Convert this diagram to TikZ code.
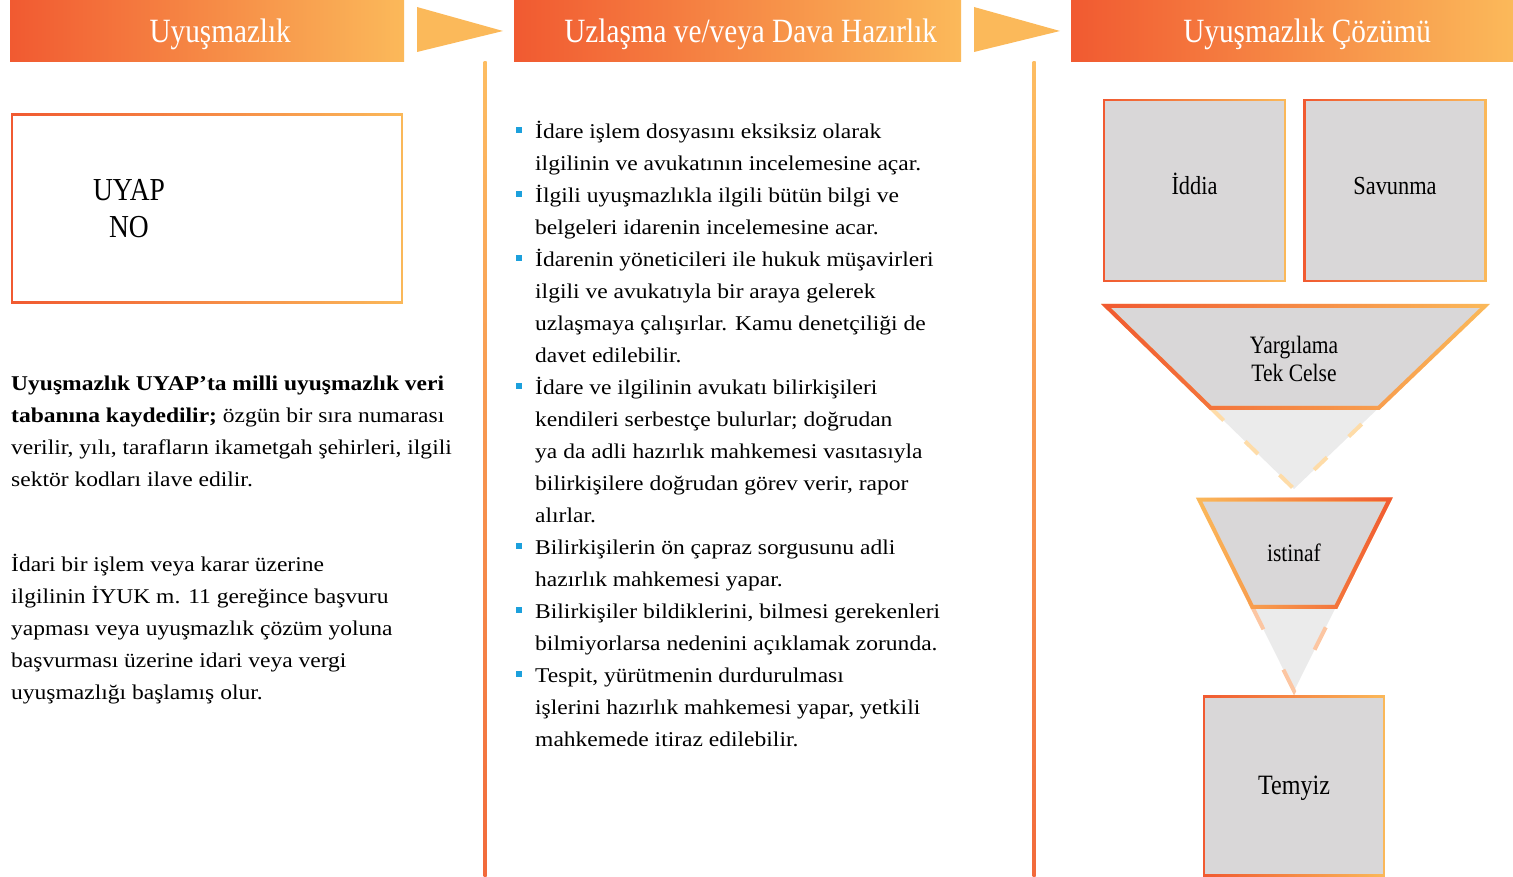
\documentclass[tikz,border=0pt]{standalone}
\usepackage{fontspec}
\setmainfont{Liberation Serif}[FakeStretch=1.12]
\newfontfamily\dispfont[FakeStretch=0.86]{Liberation Serif}
\usetikzlibrary{fadings,positioning,calc}

\definecolor{orRed}{HTML}{F15A31}
\definecolor{orYellow}{HTML}{FBB95A}
\definecolor{lineTop}{HTML}{FDBD62}
\definecolor{lineBot}{HTML}{F26A3B}
\definecolor{boxGray}{HTML}{D9D7D8}
\definecolor{tipGray}{HTML}{EBEBEB}
\definecolor{dashOne}{HTML}{FEDCA8}
\definecolor{dashTwo}{HTML}{FCC6A2}
\definecolor{bulBlue}{HTML}{1CA0DC}

\tikzfading[name=fadeRight, left color=transparent!0, right color=transparent!100]
\tikzfading[name=fadeLeft, left color=transparent!100, right color=transparent!0]

\newcommand{\bulletSq}{\hspace*{2pt}\textcolor{bulBlue}{\rule[5.5pt]{6pt}{6pt}}}

\begin{document}
\begin{tikzpicture}[x=1pt, y=-1pt,
  header/.style={minimum height=61pt, inner sep=0, left color=orRed, right color=orYellow, anchor=north west},
  headtext/.style={text=white, font=\dispfont\fontsize{34}{40}\selectfont, anchor=base, inner sep=0},
  gradline/.style={draw=orYellow, line width=#1, postaction={draw=orRed, line width=#1, path fading=fadeRight}},
  gradlinerev/.style={draw=orYellow, line width=#1, postaction={draw=orRed, line width=#1, path fading=fadeLeft}},
  graybox/.style={gradline=2.5pt, fill=boxGray, minimum width=181pt, minimum height=181pt, inner sep=0,
    text height=10pt, text depth=3pt, font=\dispfont\fontsize{26}{30}\selectfont},
  label/.style={inner sep=0, align=center, font=\dispfont\fontsize{25}{28}\selectfont},
  para/.style={anchor=north west, inner sep=0, font=\fontsize{21}{32}\selectfont},
  tip/.style={fill=tipGray, line width=4pt}]
\useasboundingbox (0,0) rectangle (1513,877);

% headers and arrows
\node[header, minimum width=394pt] (h1) at (10,0) {};
\node[header, minimum width=447pt] (h2) at (514,0) {};
\node[header, minimum width=442pt] (h3) at (1071,0) {};
\node[headtext] (t1) at ($(h1.center)+(13,11.5)$) {Uyuşmazlık};
\node[headtext] (t2) at ($(h2.center)+(13,11.5)$) {Uzlaşma ve/veya Dava Hazırlık};
\node[headtext] (t3) at ($(h3.center)+(15,11.5)$) {Uyuşmazlık Çözümü};
\fill[orYellow] (417,7) -- (503,31) -- (417,52) -- cycle;
\fill[orYellow] (974,7) -- (1060,31) -- (974,52) -- cycle;

% column rules
\shade[top color=lineTop, bottom color=lineBot] (483.5,62) rectangle (486.5,877);
\shade[top color=lineTop, bottom color=lineBot] (1032.5,62) rectangle (1035.5,877);

% left column
\node[gradline=2.5pt, fill=white, minimum width=390pt, minimum height=188pt] (uyap) at (207,208.5) {};
\node[label, font=\dispfont\fontsize{32}{37}\selectfont] (uyapno) at (129,209) {UYAP\\NO};
\node[para] (kayit) at (11,367.6) {%
\begin{tabular}{@{}l@{}}
\textbf{Uyuşmazlık UYAP’ta milli uyuşmazlık veri}\\
\textbf{tabanına kaydedilir;} özgün bir sıra numarası\\
verilir, yılı, tarafların ikametgah şehirleri, ilgili\\
sektör kodları ilave edilir.
\end{tabular}};
\node[para] (baslama) at (11,548.6) {%
\begin{tabular}{@{}l@{}}
İdari bir işlem veya karar üzerine\\
ilgilinin İYUK m. 11 gereğince başvuru\\
yapması veya uyuşmazlık çözüm yoluna\\
başvurması üzerine idari veya vergi\\
uyuşmazlığı başlamış olur.
\end{tabular}};

% middle column
\node[para] (hazirlik) at (514,115.6) {%
\begin{tabular}{@{}p{21pt}@{}l@{}}
\bulletSq & İdare işlem dosyasını eksiksiz olarak\\
 & ilgilinin ve avukatının incelemesine açar.\\
\bulletSq & İlgili uyuşmazlıkla ilgili bütün bilgi ve\\
 & belgeleri idarenin incelemesine acar.\\
\bulletSq & İdarenin yöneticileri ile hukuk müşavirleri\\
 & ilgili ve avukatıyla bir araya gelerek\\
 & uzlaşmaya çalışırlar. Kamu denetçiliği de\\
 & davet edilebilir.\\
\bulletSq & İdare ve ilgilinin avukatı bilirkişileri\\
 & kendileri serbestçe bulurlar; doğrudan\\
 & ya da adli hazırlık mahkemesi vasıtasıyla\\
 & bilirkişilere doğrudan görev verir, rapor\\
 & alırlar.\\
\bulletSq & Bilirkişilerin ön çapraz sorgusunu adli\\
 & hazırlık mahkemesi yapar.\\
\bulletSq & Bilirkişiler bildiklerini, bilmesi gerekenleri\\
 & bilmiyorlarsa nedenini açıklamak zorunda.\\
\bulletSq & Tespit, yürütmenin durdurulması\\
 & işlerini hazırlık mahkemesi yapar, yetkili\\
 & mahkemede itiraz edilebilir.
\end{tabular}};

% right column
\node[graybox] (iddia) at (1194.5,190.7) {İddia};
\node[graybox, right=17pt of iddia] (savunma) {Savunma};

\coordinate (yTL) at (1106,306);
\coordinate (yTR) at (1485,306);
\coordinate (yA) at (1294,489);
\coordinate (yBL) at ($(yTL)!0.557!(yA)$);
\coordinate (yBR) at ($(yTR)!0.557!(yA)$);
\draw[tip, draw=dashOne, dash pattern=on 18pt off 30pt] (yBL) -- (yA) -- (yBR) -- cycle;
\draw[gradline=4pt, fill=boxGray] (yTL) -- (yTR) -- (yBR) -- (yBL) -- cycle;
\node[label] (yargilama) at (1294,359) {Yargılama\\Tek Celse};

\coordinate (iTL) at (1199,499.5);
\coordinate (iTR) at (1389.5,499.5);
\coordinate (iA) at (1294,691);
\coordinate (iBL) at ($(iTL)!0.561!(iA)$);
\coordinate (iBR) at ($(iTR)!0.561!(iA)$);
\draw[tip, draw=dashTwo, dash pattern=on 25pt off 45pt] (iBL) -- (iA) -- (iBR) -- cycle;
\draw[gradlinerev=4pt, fill=boxGray] (iTL) -- (iTR) -- (iBR) -- (iBL) -- cycle;
\node[label] (istinaf) at (1294,553) {istinaf};

\node[graybox, minimum width=180pt, minimum height=179pt, text height=19pt, text depth=3pt,
  font=\dispfont\fontsize{28}{30}\selectfont] (temyiz) at (1294,786) {Temyiz};
\end{tikzpicture}
\end{document}
